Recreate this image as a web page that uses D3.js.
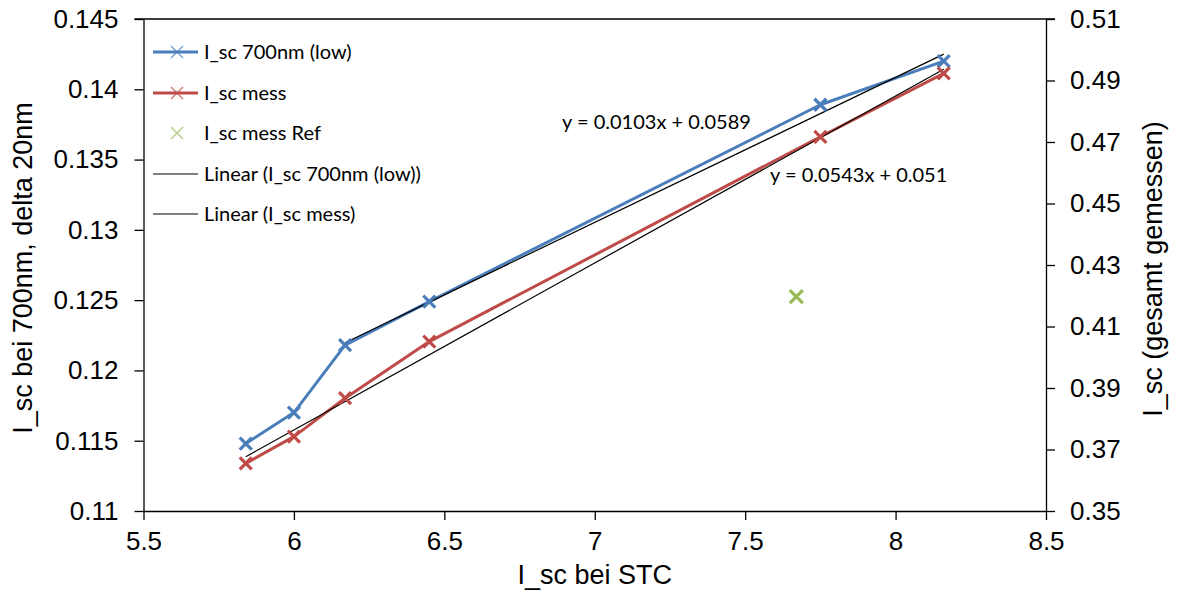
<!DOCTYPE html>
<html>
<head>
<meta charset="utf-8">
<script src="https://cdn.jsdelivr.net/npm/d3@7"></script>
<style>
body { margin: 0; background: #fff; }
svg text { fill: #000; }
</style>
</head>
<body>
<svg id="chart"></svg>
<script>
// data
var stcVals = [5.84, 6.0, 6.17, 6.45, 7.75, 8.16];
var lowVals = [0.1148, 0.1170, 0.1218, 0.1249, 0.1389, 0.1420];
var messVals = [0.3655, 0.3742, 0.3867, 0.4051, 0.4717, 0.4923];
var refStc = [7.67];
var refVals = [0.4197];
var xTicks = [5.5, 6, 6.5, 7, 7.5, 8, 8.5];
var leftTicks = [0.11, 0.115, 0.12, 0.125, 0.13, 0.135, 0.14, 0.145];
var rightTicks = [0.35, 0.37, 0.39, 0.41, 0.43, 0.45, 0.47, 0.49, 0.51];
var legendNames = ["I_sc 700nm (low)", "I_sc mess", "I_sc mess Ref", "Linear (I_sc 700nm (low))", "Linear (I_sc mess)"];
var eqLow = "y = 0.0103x + 0.0589";
var eqMess = "y = 0.0543x + 0.051";

var width = 1180, height = 601;
var pLeft = 143.5, pRight = 1046, pTop = 19, pBottom = 511;
var blue = "#4a7ebb", red = "#be4b48", green = "#98b954";

var svg = d3.select("#chart")
  .attr("width", width)
  .attr("height", height);

var x = d3.scaleLinear().domain([5.5, 8.5]).range([pLeft, pRight]);
var yL = d3.scaleLinear().domain([0.11, 0.145]).range([pBottom, pTop]);
var yR = d3.scaleLinear().domain([0.35, 0.51]).range([pBottom, pTop]);

var tickFont = "'Liberation Sans', Arial, sans-serif";
var labelFont = "Lato, 'Open Sans', sans-serif";

var styleAxis = function(g) {
  g.selectAll("path").attr("stroke", "#000").attr("stroke-width", 1.3);
  g.selectAll("line").attr("stroke", "#000").attr("stroke-width", 1.3);
  g.selectAll("text").attr("font-family", tickFont).attr("font-size", 26).attr("fill", "#111");
};

// top border line
svg.append("line")
  .attr("x1", pLeft - 9).attr("x2", pRight + 9)
  .attr("y1", pTop).attr("y2", pTop)
  .attr("stroke", "#000").attr("stroke-width", 1.3);

svg.append("g")
  .attr("transform", "translate(0," + pBottom + ")")
  .call(d3.axisBottom(x).tickValues(xTicks).tickFormat(function(d) { return d; })
    .tickSizeInner(9).tickSizeOuter(0).tickPadding(12))
  .call(styleAxis);

svg.append("g")
  .attr("transform", "translate(" + pLeft + ",0)")
  .call(d3.axisLeft(yL).tickValues(leftTicks).tickFormat(function(d) { return d; })
    .tickSizeInner(9).tickSizeOuter(0).tickPadding(16))
  .call(styleAxis);

svg.append("g")
  .attr("transform", "translate(" + pRight + ",0)")
  .call(d3.axisRight(yR).tickValues(rightTicks).tickFormat(function(d) { return d; })
    .tickSizeInner(9).tickSizeOuter(0).tickPadding(15))
  .call(styleAxis);

// axis titles
svg.append("text")
  .attr("x", (pLeft + pRight) / 2).attr("y", 584)
  .attr("text-anchor", "middle")
  .attr("font-family", tickFont).attr("font-size", 27)
  .text("I_sc bei STC");

svg.append("text")
  .attr("transform", "translate(32,268) rotate(-90)")
  .attr("text-anchor", "middle")
  .attr("font-family", tickFont).attr("font-size", 27)
  .text("I_sc bei 700nm, delta 20nm");

svg.append("text")
  .attr("transform", "translate(1162,269) rotate(-90)")
  .attr("text-anchor", "middle")
  .attr("font-family", tickFont).attr("font-size", 27)
  .text("I_sc (gesamt gemessen)");

// least squares fit
var fit = function(xs, ys) {
  var mx = d3.mean(xs), my = d3.mean(ys);
  var sxy = d3.sum(xs, function(v, i) { return (v - mx) * (ys[i] - my); });
  var sxx = d3.sum(xs, function(v) { return (v - mx) * (v - mx); });
  var m = sxy / sxx;
  return { m: m, b: my - m * mx };
};

var lowPts = stcVals.map(function(v, i) { return [v, lowVals[i]]; });
var messPts = stcVals.map(function(v, i) { return [v, messVals[i]]; });

var marker = function(s) {
  return "M" + (-s) + "," + (-s) + "L" + s + "," + s + "M" + (-s) + "," + s + "L" + s + "," + (-s);
};

var lineL = d3.line().x(function(d) { return x(d[0]); }).y(function(d) { return yL(d[1]); });
var lineR = d3.line().x(function(d) { return x(d[0]); }).y(function(d) { return yR(d[1]); });

// series lines
svg.append("path").datum(lowPts)
  .attr("d", lineL).attr("fill", "none")
  .attr("stroke", blue).attr("stroke-width", 3).attr("stroke-linejoin", "round");

svg.append("path").datum(messPts)
  .attr("d", lineR).attr("fill", "none")
  .attr("stroke", red).attr("stroke-width", 3).attr("stroke-linejoin", "round");

// trend lines (low fit only uses points from 6.17 on)
var fitLowX = stcVals.slice(2), fitLowY = lowVals.slice(2);
var fl = fit(fitLowX, fitLowY);
var fm = fit(stcVals, messVals);
var xMin = d3.min(stcVals), xMax = d3.max(stcVals);

svg.append("path")
  .datum([[fitLowX[0], fl.m * fitLowX[0] + fl.b], [xMax, fl.m * xMax + fl.b]])
  .attr("d", lineL).attr("fill", "none")
  .attr("stroke", "#000").attr("stroke-width", 1.2);

svg.append("path")
  .datum([[xMin, fm.m * xMin + fm.b], [xMax, fm.m * xMax + fm.b]])
  .attr("d", lineR).attr("fill", "none")
  .attr("stroke", "#000").attr("stroke-width", 1.2);

// markers
svg.selectAll(".mLow").data(lowPts).enter().append("path")
  .attr("class", "mLow")
  .attr("transform", function(d) { return "translate(" + x(d[0]) + "," + yL(d[1]) + ")"; })
  .attr("d", marker(6)).attr("stroke", blue).attr("stroke-width", 3.2).attr("fill", "none");

svg.selectAll(".mMess").data(messPts).enter().append("path")
  .attr("class", "mMess")
  .attr("transform", function(d) { return "translate(" + x(d[0]) + "," + yR(d[1]) + ")"; })
  .attr("d", marker(6)).attr("stroke", red).attr("stroke-width", 3.2).attr("fill", "none");

svg.selectAll(".mRef").data(refStc).enter().append("path")
  .attr("class", "mRef")
  .attr("transform", function(d, i) { return "translate(" + x(d) + "," + yR(refVals[i]) + ")"; })
  .attr("d", marker(6.5)).attr("stroke", green).attr("stroke-width", 3.2).attr("fill", "none");

// equations
svg.append("text")
  .attr("x", 562).attr("y", 129)
  .attr("font-family", labelFont).attr("font-size", 20)
  .text(eqLow);

svg.append("text")
  .attr("x", 770).attr("y", 182)
  .attr("font-family", labelFont).attr("font-size", 20)
  .text(eqMess);

// legend
var legColors = [blue, red, green, "#000", "#000"];
var legRows = [52, 93, 133, 174, 214];
var leg = svg.selectAll(".leg").data(legendNames).enter().append("g")
  .attr("class", "leg")
  .attr("transform", function(d, i) { return "translate(0," + legRows[i] + ")"; });

leg.filter(function(d, i) { return i !== 2; }).append("line")
  .attr("x1", 153).attr("x2", 198).attr("y1", 0).attr("y2", 0)
  .attr("stroke", function(d) { return legColors[legendNames.indexOf(d)]; })
  .attr("stroke-width", function(d) { return legendNames.indexOf(d) < 2 ? 3 : 1.2; });

leg.filter(function(d, i) { return i < 3; }).append("path")
  .attr("transform", "translate(177,0)")
  .attr("d", marker(6))
  .attr("stroke", function(d) { return legColors[legendNames.indexOf(d)]; })
  .attr("stroke-opacity", 0.7)
  .attr("stroke-width", 1.5).attr("fill", "none");

leg.append("text")
  .attr("x", 204).attr("y", 7)
  .attr("font-family", labelFont).attr("font-size", 20)
  .text(function(d) { return d; });
</script>
</body>
</html>
